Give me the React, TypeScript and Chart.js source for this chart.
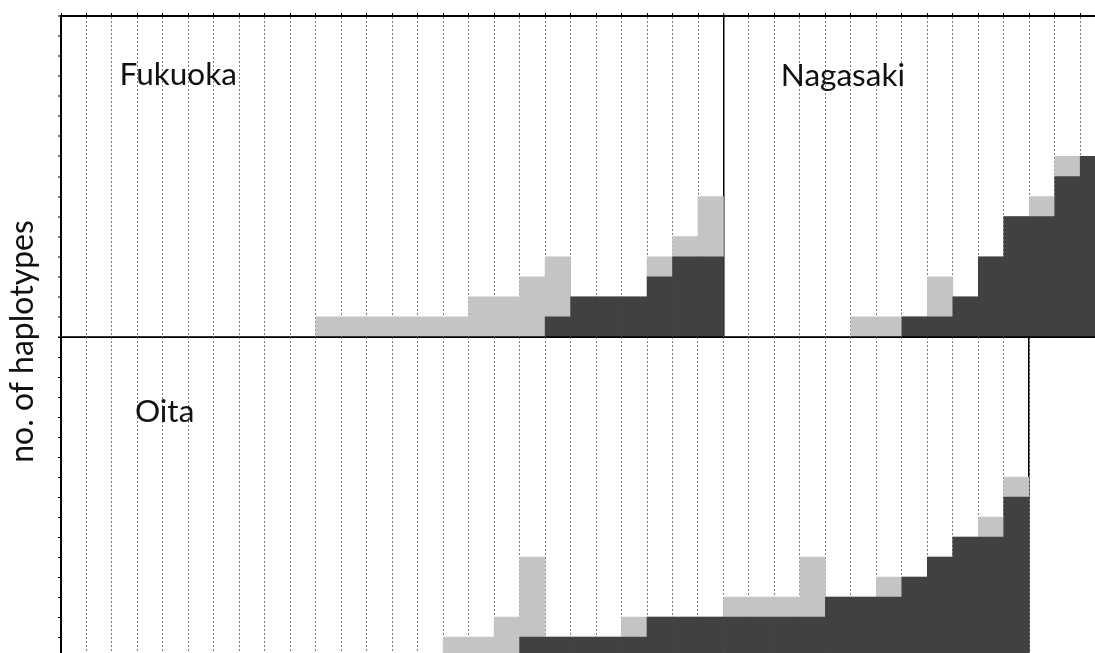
import { useEffect, useRef } from 'react';
import { Chart, registerables } from 'chart.js';

Chart.register(...registerables);

// Haplotype columns per prefecture (left to right)
const fukuokaColumns = ['F1', 'F2', 'F3', 'F4', 'F5', 'F6', 'F7', 'F8', 'F9', 'F10', 'F11', 'F12', 'F13', 'F14', 'F15', 'F16', 'F17', 'F18', 'F19', 'F20', 'F21', 'F22', 'F23', 'F24', 'F25', 'F26'];
const nagasakiColumns = ['N1', 'N2', 'N3', 'N4', 'N5', 'N6', 'N7', 'N8', 'N9', 'N10', 'N11', 'N12', 'N13', 'N14', 'N15'];
const oitaColumns = ['O1', 'O2', 'O3', 'O4', 'O5', 'O6', 'O7', 'O8', 'O9', 'O10', 'O11', 'O12', 'O13', 'O14', 'O15', 'O16', 'O17', 'O18', 'O19', 'O20', 'O21', 'O22', 'O23', 'O24', 'O25', 'O26', 'O27', 'O28', 'O29', 'O30', 'O31', 'O32', 'O33', 'O34', 'O35', 'O36', 'O37', 'O38'];

// Counts: dark = lower (shared) part, light = upper part stacked on top
const fukuokaDark = [0, 0, 0, 0, 0, 0, 0, 0, 0, 0, 0, 0, 0, 0, 0, 0, 0, 0, 0, 1, 2, 2, 2, 3, 4, 4];
const fukuokaLight = [0, 0, 0, 0, 0, 0, 0, 0, 0, 0, 1, 1, 1, 1, 1, 1, 2, 2, 3, 3, 0, 0, 0, 1, 1, 3];
const nagasakiDark = [0, 0, 0, 0, 0, 0, 0, 1, 1, 2, 4, 6, 6, 8, 9];
const nagasakiLight = [0, 0, 0, 0, 0, 1, 1, 0, 2, 0, 0, 0, 1, 1, 0];
const oitaDark = [0, 0, 0, 0, 0, 0, 0, 0, 0, 0, 0, 0, 0, 0, 0, 0, 0, 0, 1, 1, 1, 1, 1, 2, 2, 2, 2, 2, 2, 2, 3, 3, 3, 4, 5, 6, 6, 8];
const oitaLight = [0, 0, 0, 0, 0, 0, 0, 0, 0, 0, 0, 0, 0, 0, 0, 1, 1, 2, 4, 0, 0, 0, 1, 0, 0, 0, 1, 1, 1, 3, 0, 0, 1, 0, 0, 0, 1, 1];

const panelMax = 16;
const axisTitle = 'no. of haplotypes';

const DARK = '#414141';
const LIGHT = '#c4c4c4';
const GRID = 'rgba(100,100,100,0.85)';
const FONT = 'Lato, "Open Sans", sans-serif';

const CANVAS_W = 1110;
const CANVAS_H = 673;

const captionPlugin = {
  id: 'captions',
  afterDraw(chart: any, _args: any, opts: any) {
    const { ctx, scales } = chart;
    ctx.save();
    ctx.fillStyle = '#111111';
    ctx.textBaseline = 'alphabetic';
    ctx.textAlign = 'left';
    ctx.font = `${opts.size}px ${FONT}`;
    for (const c of opts.items || []) {
      ctx.fillText(c.text, scales.x.getPixelForValue(c.at), scales.y.getPixelForValue(c.level));
    }
    if (opts.title) {
      ctx.translate(opts.title.x, opts.title.y);
      ctx.rotate(-Math.PI / 2);
      ctx.textAlign = 'center';
      ctx.font = `${opts.title.size}px ${FONT}`;
      ctx.fillText(opts.title.text, 0, 0);
    }
    ctx.restore();
  },
};

function barSet(data: number[], color: string) {
  return {
    data,
    backgroundColor: color,
    borderWidth: 0,
    barPercentage: 1,
    categoryPercentage: 1,
  };
}

function valueAxis(extra: any = {}) {
  return {
    stacked: true,
    min: 0,
    max: panelMax,
    z: 2,
    ticks: { display: false, stepSize: 1 },
    grid: {
      drawOnChartArea: false,
      tickLength: 3,
      tickColor: '#000',
      tickWidth: 1,
    },
    border: { color: '#000', width: 2 },
    ...extra,
  };
}

export default function App() {
  const topRef = useRef<HTMLCanvasElement>(null);
  const bottomRef = useRef<HTMLCanvasElement>(null);

  useEffect(() => {
    const divider = fukuokaColumns.length;

    const bottom = new Chart(bottomRef.current!, {
      type: 'bar',
      data: {
        labels: oitaColumns,
        datasets: [barSet(oitaDark, DARK), barSet(oitaLight, LIGHT)],
      },
      plugins: [captionPlugin],
      options: {
        responsive: false,
        animation: false,
        events: [],
        layout: { padding: { left: 58, top: 337, right: 80.8, bottom: 13 } },
        plugins: {
          legend: { display: false },
          tooltip: { enabled: false },
          captions: { size: 31.5, items: [{ text: 'Oita', at: 2.4, level: 11.77 }] },
        } as any,
        scales: {
          x: {
            stacked: true,
            position: 'bottom',
            z: 1,
            ticks: { display: false },
            grid: { color: GRID, lineWidth: 1, tickLength: 3, offset: true },
            border: { display: false, dash: [2, 2] },
          },
          y: valueAxis(),
          yEdge: {
            position: 'right',
            min: 0,
            max: panelMax,
            z: 2,
            ticks: { display: false },
            grid: { drawOnChartArea: false, drawTicks: false },
            border: { color: '#000', width: 1.5 },
          },
        } as any,
      },
    });

    const top = new Chart(topRef.current!, {
      type: 'bar',
      data: {
        labels: [...fukuokaColumns, ...nagasakiColumns],
        datasets: [
          barSet([...fukuokaDark, ...nagasakiDark], DARK),
          barSet([...fukuokaLight, ...nagasakiLight], LIGHT),
        ],
      },
      plugins: [captionPlugin],
      options: {
        responsive: false,
        animation: false,
        events: [],
        layout: { padding: { left: 58, top: 13, right: 4.3, bottom: 336 } },
        plugins: {
          legend: { display: false },
          tooltip: { enabled: false },
          captions: {
            size: 31.5,
            items: [
              { text: 'Fukuoka', at: 1.8, level: 12.56 },
              { text: 'Nagasaki', at: 27.75, level: 12.5 },
            ],
            title: { text: axisTitle, x: 33, y: 341.5, size: 32 },
          },
        } as any,
        scales: {
          x: {
            stacked: true,
            position: 'top',
            z: 1,
            ticks: { display: false },
            grid: {
              color: (c: any) => (c.index === divider ? '#000' : GRID),
              lineWidth: (c: any) => (c.index === divider ? 1.5 : 1),
              tickLength: 3,
              tickColor: '#000',
              tickWidth: 1,
              tickBorderDash: [],
              offset: true,
            },
            border: {
              color: '#000',
              width: 2,
              dash: (c: any) => (c.index === divider ? [] : [2, 2]),
            },
          },
          y: valueAxis({
            grid: {
              drawOnChartArea: true,
              color: (c: any) => (c.tick && c.tick.value === 0 ? '#000' : 'rgba(0,0,0,0)'),
              lineWidth: 2,
              tickLength: 3,
              tickColor: '#000',
              tickWidth: 1,
            },
          }),
        } as any,
      },
    });

    return () => {
      top.destroy();
      bottom.destroy();
    };
  }, []);

  const canvasStyle: any = { position: 'absolute', left: 0, top: 0, width: CANVAS_W, height: CANVAS_H };

  return (
    <div style={{ position: 'fixed', left: 0, top: 0, width: 1095, height: 653, overflow: 'hidden', background: '#fff' }}>
      <canvas ref={bottomRef} width={CANVAS_W} height={CANVAS_H} style={canvasStyle} />
      <canvas ref={topRef} width={CANVAS_W} height={CANVAS_H} style={canvasStyle} />
    </div>
  );
}
